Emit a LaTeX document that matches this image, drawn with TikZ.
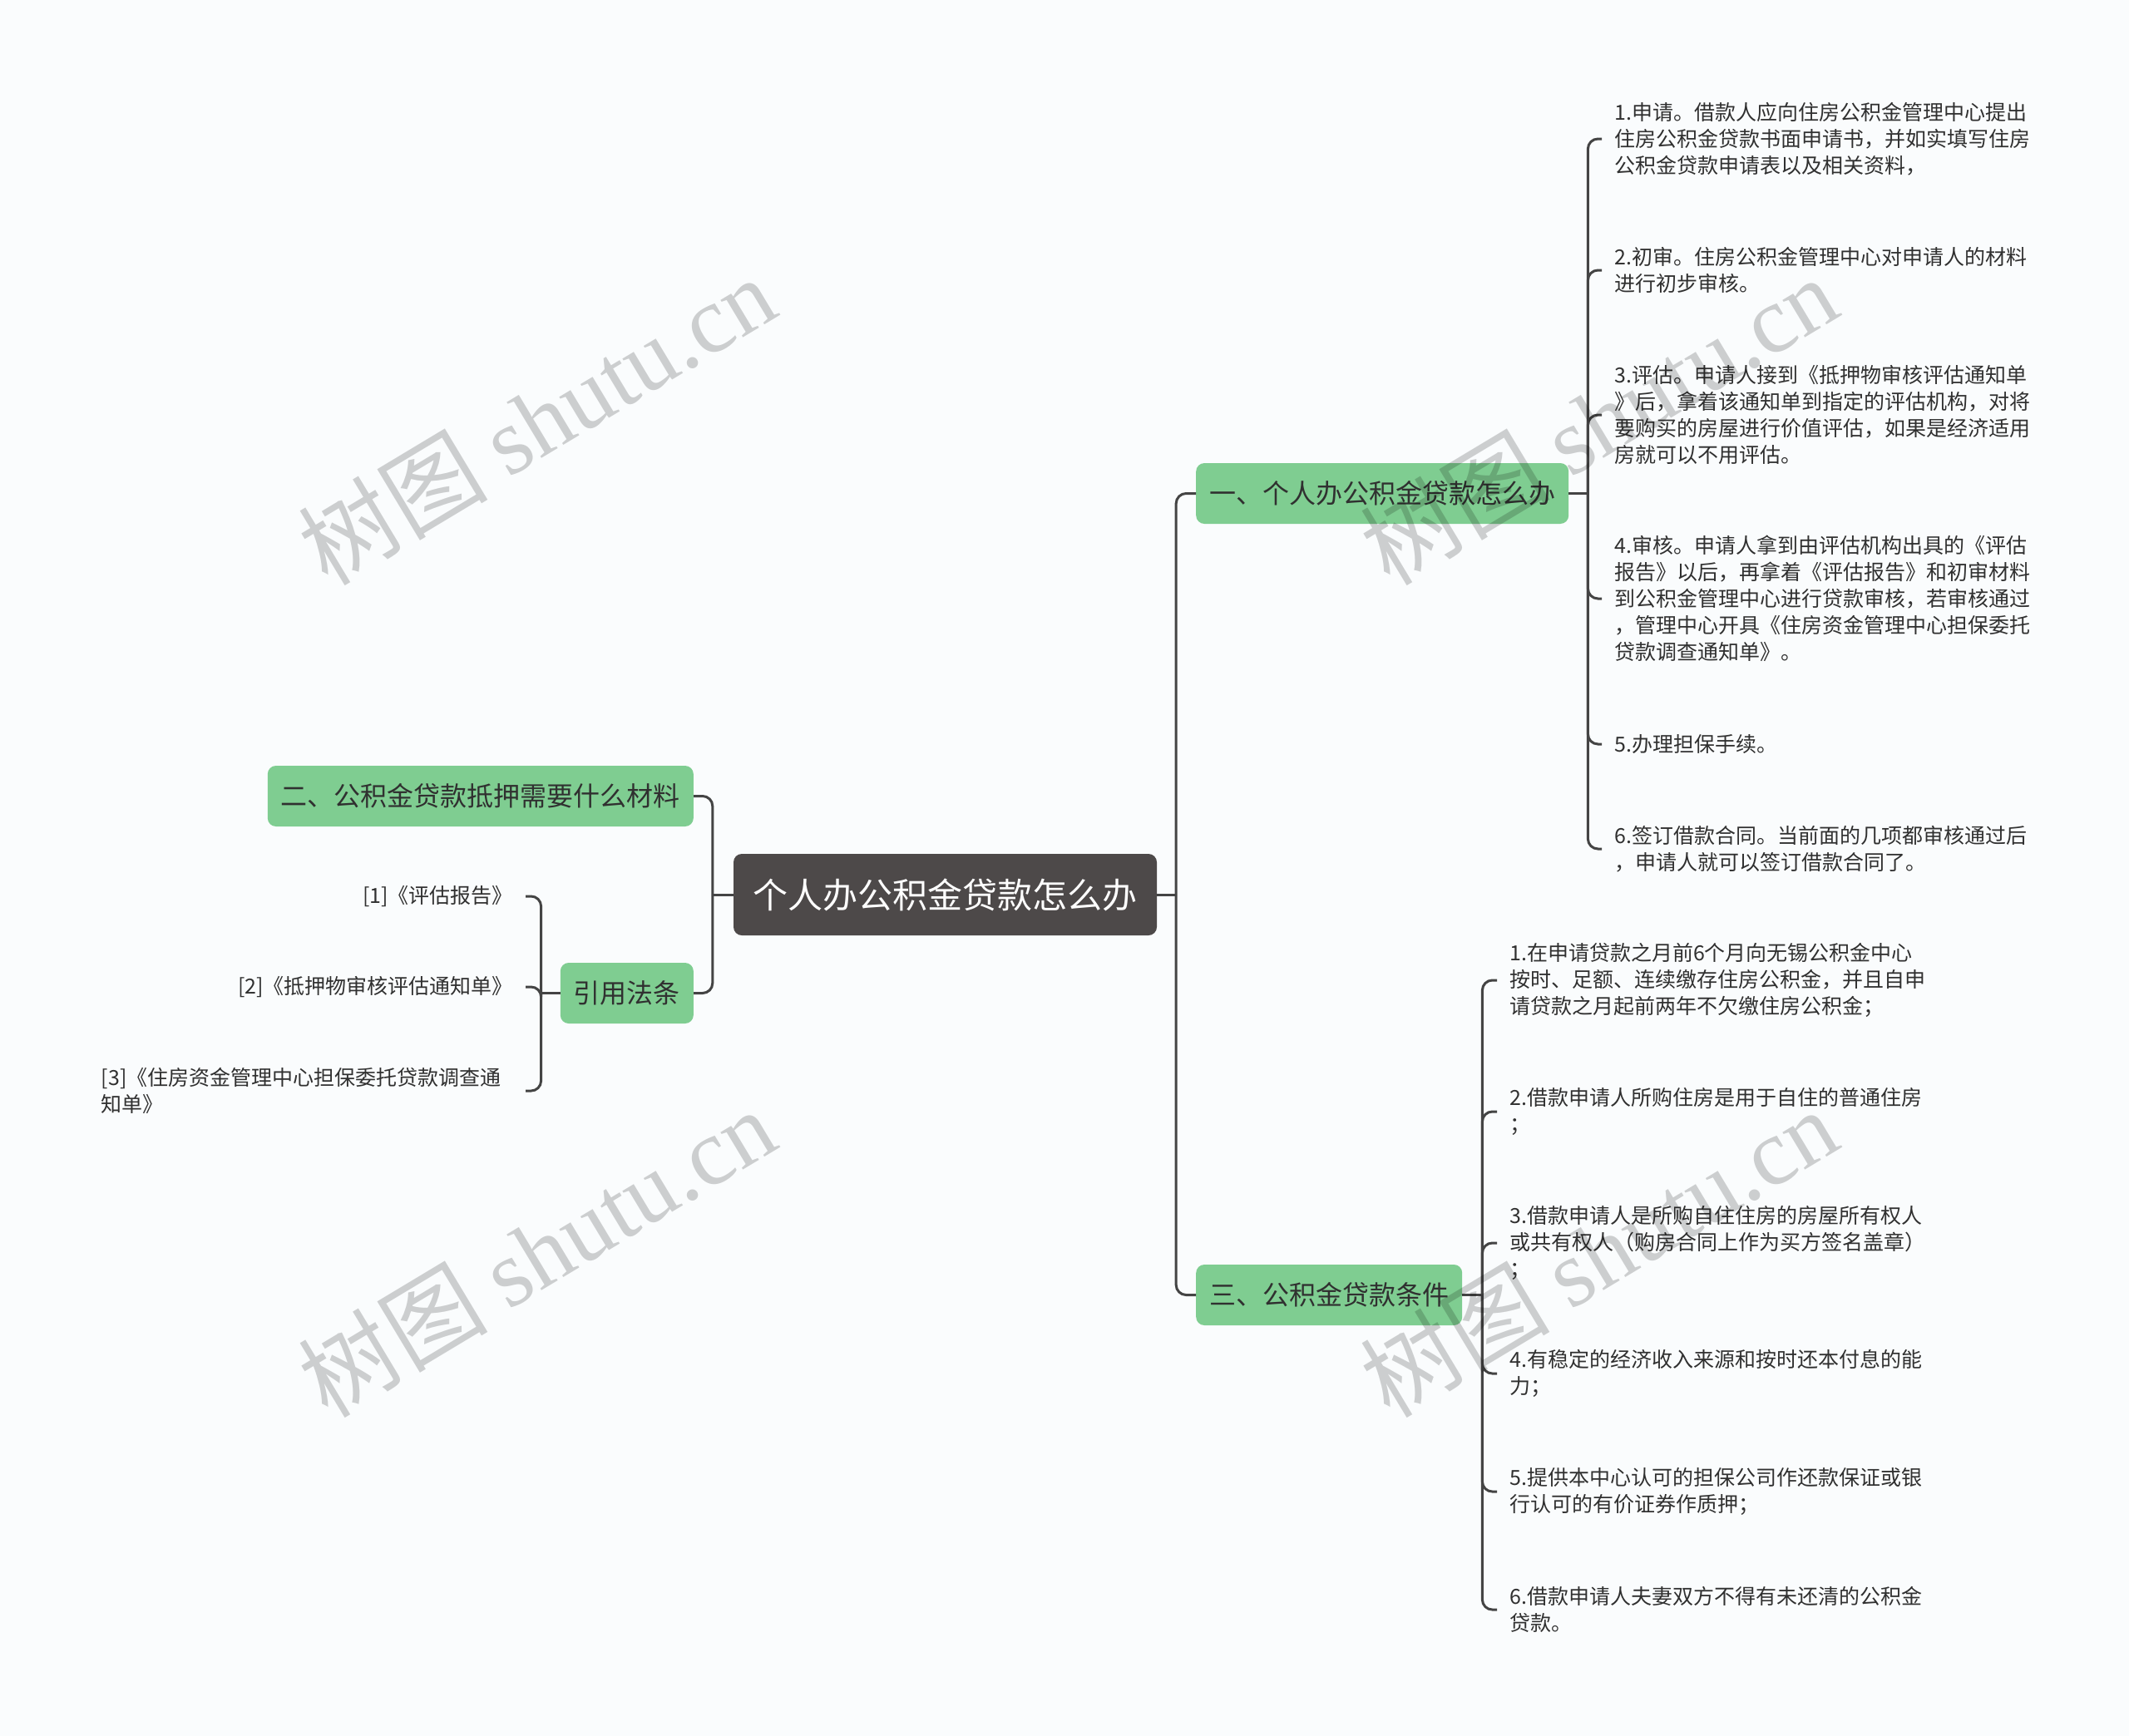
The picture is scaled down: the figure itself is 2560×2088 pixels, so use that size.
\documentclass[tikz,border=0pt]{standalone}
\usepackage{fontspec}
\setmainfont{Noto Sans CJK SC}
\newfontfamily\cjkfont{Noto Sans CJK SC}
\newfontfamily\wmlatin{Liberation Serif}
\definecolor{bgc}{HTML}{FAFCFD}
\definecolor{linec}{HTML}{444444}
\definecolor{rootc}{HTML}{4D4949}
\definecolor{greenc}{HTML}{7FCD91}
\definecolor{textc}{HTML}{303030}
\tikzset{
  rootbox/.style={rectangle, rounded corners=10pt, fill=rootc, text=white,
    font=\fontsize{42}{50}\selectfont, minimum width=509pt, minimum height=98pt, inner sep=0pt},
  branchbox/.style={rectangle, rounded corners=10pt, fill=greenc, text=textc,
    font=\fontsize{32}{40}\selectfont, minimum height=73pt, inner xsep=16pt, inner ysep=0pt},
  leafbox/.style={font=\fontsize{25}{32}\selectfont, text=textc, align=left, inner xsep=15pt, inner ysep=3pt},
  conn/.style={draw=linec, line width=3pt, rounded corners=12pt},
  wmark/.style={text=black, text opacity=0.18, rotate=31, font=\fontsize{114}{124}\selectfont}
}
\begin{document}
\begin{tikzpicture}[x=1pt,y=-1pt]
\fill[bgc] (0,0) rectangle (2560,2088);
\useasboundingbox (0,0) rectangle (2560,2088);

% main nodes
\node[rootbox] (root) at (1136.5,1076) {个人办公积金贷款怎么办};
\node[branchbox, anchor=west] (b1) at (1438,593.5) {一、个人办公积金贷款怎么办};
\node[branchbox, anchor=east] (b2) at (834,957.5) {二、公积金贷款抵押需要什么材料};
\node[branchbox, anchor=east] (rf) at (834,1194.5) {引用法条};
\node[branchbox, anchor=west] (b3) at (1438,1557.5) {三、公积金贷款条件};

% branch 1 leaves
\node[leafbox, anchor=west] (a1) at (1926,167) {1.申请。借款人应向住房公积金管理中心提出\\住房公积金贷款书面申请书，并如实填写住房\\公积金贷款申请表以及相关资料，};
\node[leafbox, anchor=west] (a2) at (1926,325) {2.初审。住房公积金管理中心对申请人的材料\\进行初步审核。};
\node[leafbox, anchor=west] (a3) at (1926,499) {3.评估。申请人接到《抵押物审核评估通知单\\》后，拿着该通知单到指定的评估机构，对将\\要购买的房屋进行价值评估，如果是经济适用\\房就可以不用评估。};
\node[leafbox, anchor=west] (a4) at (1926,720) {4.审核。申请人拿到由评估机构出具的《评估\\报告》以后，再拿着《评估报告》和初审材料\\到公积金管理中心进行贷款审核，若审核通过\\，管理中心开具《住房资金管理中心担保委托\\贷款调查通知单》。};
\node[leafbox, anchor=west] (a5) at (1926,895) {5.办理担保手续。};
\node[leafbox, anchor=west] (a6) at (1926,1021) {6.签订借款合同。当前面的几项都审核通过后\\，申请人就可以签订借款合同了。};

% branch 3 leaves
\node[leafbox, anchor=west] (c1) at (1800,1179) {1.在申请贷款之月前6个月向无锡公积金中心\\按时、足额、连续缴存住房公积金，并且自申\\请贷款之月起前两年不欠缴住房公积金；};
\node[leafbox, anchor=west] (c2) at (1800,1337) {2.借款申请人所购住房是用于自住的普通住房\\；};
\node[leafbox, anchor=west] (c3) at (1800,1495) {3.借款申请人是所购自住住房的房屋所有权人\\或共有权人（购房合同上作为买方签名盖章）\\；};
\node[leafbox, anchor=west] (c4) at (1800,1652) {4.有稳定的经济收入来源和按时还本付息的能\\力；};
\node[leafbox, anchor=west] (c5) at (1800,1794) {5.提供本中心认可的担保公司作还款保证或银\\行认可的有价证券作质押；};
\node[leafbox, anchor=west] (c6) at (1800,1936) {6.借款申请人夫妻双方不得有未还清的公积金\\贷款。};

% references
\node[leafbox, anchor=east] (r1) at (632,1078) {[1]《评估报告》};
\node[leafbox, anchor=east] (r2) at (632,1187) {[2]《抵押物审核评估通知单》};
\node[leafbox, anchor=east, text width=495pt] (r3) at (632,1312) {[3]《住房资金管理中心担保委托贷款调查通\\知单》};

% connectors: root
\draw[conn] (root.east) -- ++(23,0) coordinate (s1);
\draw[conn] (s1) |- (b1.west);
\draw[conn] (s1) |- (b3.west);
\draw[conn] (root.west) -- ++(-25,0) coordinate (s2);
\draw[conn] (s2) |- (b2.east);
\draw[conn] (s2) |- (rf.east);

% branch 1
\draw[conn] (b1.east) -- ++(23,0) coordinate (s3);
\foreach \n in {a1,a2,a3,a4,a5,a6} \draw[conn] (s3) |- (\n.west);
% branch 3
\draw[conn] (b3.east) -- ++(24,0) coordinate (s4);
\foreach \n in {c1,c2,c3,c4,c5,c6} \draw[conn] (s4) |- (\n.west);
% references
\draw[conn] (rf.west) -- ++(-23,0) coordinate (s5);
\foreach \n in {r1,r2,r3} \draw[conn] (s5) |- (\n.east);

% watermarks
\node[wmark] (w1) at (645,505) {树图 {\wmlatin shutu.cn}};
\node[wmark] (w2) at (1922,505) {树图 {\wmlatin shutu.cn}};
\node[wmark] (w3) at (645,1506) {树图 {\wmlatin shutu.cn}};
\node[wmark] (w4) at (1922,1506) {树图 {\wmlatin shutu.cn}};
\end{tikzpicture}
\end{document}
